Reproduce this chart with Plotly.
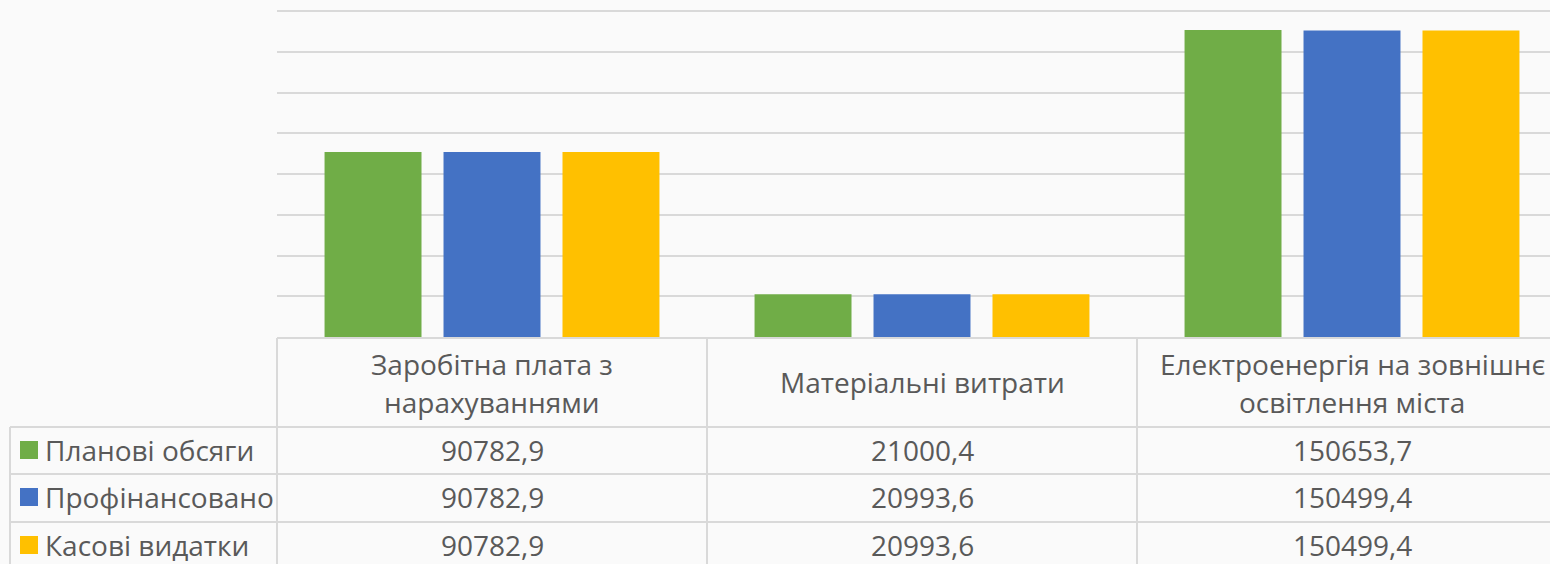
import plotly.graph_objects as go

# data
categories = ["Заробітна плата з нарахуваннями", "Матеріальні витрати",
              "Електроенергія на зовнішнє освітлення міста"]
header_lines = [["Заробітна плата з", "нарахуваннями"],
                ["Матеріальні витрати"],
                ["Електроенергія на зовнішнє", "освітлення міста"]]
series_names = ["Планові обсяги", "Профінансовано", "Касові видатки"]
planned = [90782.9, 21000.4, 150653.7]
financed = [90782.9, 20993.6, 150499.4]
cash = [90782.9, 20993.6, 150499.4]
series_values = [planned, financed, cash]
colors = ["#70AD47", "#4472C4", "#FFC000"]

W, H = 1550, 564
L, T, B = 277, 7, 337  # plot area in pixels
CAT_W = 430
TXT = "#595959"
GRID = "#D9D9D9"
FONT = "Open Sans"
FS = 28


def px(x):
    return (x - L) / (W - L)


def py(y):
    return (B - y) / (B - T)


fig = go.Figure()
for name, vals, col in zip(series_names, series_values, colors):
    fig.add_trace(go.Bar(
        x=list(range(len(categories))), y=vals, name=name,
        marker=dict(color=col, line=dict(width=0)),
        hoverinfo="name+y",
    ))

shapes = []
line = dict(color=GRID, width=2)
# horizontal table lines
shapes.append(dict(type="line", xref="paper", yref="paper", x0=px(L), x1=1.0,
                   y0=py(338), y1=py(338), line=line))
for yy in [427, 474, 522]:
    shapes.append(dict(type="line", xref="paper", yref="paper", x0=px(10), x1=1.0,
                       y0=py(yy), y1=py(yy), line=line))
# vertical table lines
for xx in [L, L + CAT_W, L + 2 * CAT_W]:
    shapes.append(dict(type="line", xref="paper", yref="paper", x0=px(xx), x1=px(xx),
                       y0=py(338), y1=py(H + 5), line=line))
shapes.append(dict(type="line", xref="paper", yref="paper", x0=px(10), x1=px(10),
                   y0=py(427), y1=py(H + 5), line=line))

annotations = []
# header labels
for i, lines in enumerate(header_lines):
    ys = [382] if len(lines) == 1 else [364, 402]
    for txt, yy in zip(lines, ys):
        annotations.append(dict(x=i, xref="x", y=py(yy), yref="paper", text=txt,
                                showarrow=False, xanchor="center", yanchor="middle",
                                font=dict(family=FONT, size=FS, color=TXT)))
# rows
row_y = [450, 497, 545]
for name, vals, col, yy in zip(series_names, series_values, colors, row_y):
    shapes.append(dict(type="rect", xref="paper", yref="paper",
                       x0=px(20), x1=px(38), y0=py(yy - 9), y1=py(yy + 9),
                       fillcolor=col, line=dict(width=0)))
    annotations.append(dict(x=px(43), xref="paper", y=py(yy), yref="paper", text=name,
                            showarrow=False, xanchor="left", yanchor="middle",
                            font=dict(family=FONT, size=FS, color=TXT)))
    for i, v in enumerate(vals):
        annotations.append(dict(x=i, xref="x", y=py(yy), yref="paper",
                                text=f"{v:.1f}".replace(".", ","),
                                showarrow=False, xanchor="center", yanchor="middle",
                                font=dict(family=FONT, size=FS, color=TXT)))

fig.update_layout(
    width=W, height=H,
    margin=dict(l=L, r=0, t=T, b=H - B, pad=0),
    paper_bgcolor="#FAFAFA", plot_bgcolor="#FAFAFA",
    barmode="group", bargap=0.17, bargroupgap=0.185,
    showlegend=False,
    xaxis=dict(range=[-0.5, -0.5 + (W - L) / CAT_W], showticklabels=False,
               showgrid=False, zeroline=False, showline=False, fixedrange=True),
    yaxis=dict(range=[0, 162000], tickvals=[20000 * k for k in range(1, 9)],
               showticklabels=False,
               showgrid=True, gridcolor=GRID, gridwidth=2, zeroline=False,
               showline=False, fixedrange=True),
    shapes=shapes, annotations=annotations,
    font=dict(family=FONT, color=TXT),
)

fig.write_html("out.html", config={"displayModeBar": False},
               post_script="document.body.style.margin='0';")
